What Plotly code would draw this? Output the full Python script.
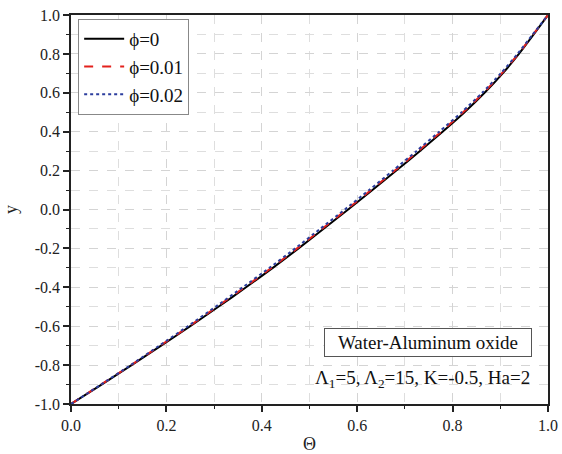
import plotly.graph_objects as go

# y positions (vertical axis)
y_vals = [-1.0, -0.9, -0.8, -0.7, -0.6, -0.5, -0.4, -0.3, -0.2, -0.1, 0.0,
          0.1, 0.2, 0.3, 0.4, 0.5, 0.6, 0.7, 0.8, 0.9, 1.0]
# Theta for each series
theta_phi0 = [0.0, 0.064, 0.127, 0.189, 0.250, 0.309, 0.367, 0.423, 0.477, 0.529, 0.581,
              0.632, 0.682, 0.731, 0.779, 0.825, 0.867, 0.905, 0.939, 0.970, 1.0]
theta_phi001 = [0.0, 0.063, 0.126, 0.187, 0.248, 0.306, 0.364, 0.420, 0.474, 0.526, 0.578,
                0.629, 0.679, 0.728, 0.776, 0.822, 0.865, 0.903, 0.938, 0.969, 1.0]
theta_phi002 = [0.0, 0.063, 0.125, 0.185, 0.245, 0.303, 0.360, 0.416, 0.470, 0.522, 0.574,
                0.625, 0.675, 0.724, 0.772, 0.819, 0.862, 0.901, 0.936, 0.968, 1.0]

names = ["\u03d5=0", "\u03d5=0.01", "\u03d5=0.02"]
series = [theta_phi0, theta_phi001, theta_phi002]
colors = ["#000000", "#e3211c", "#2c3e9e"]
dashes = ["solid", "dash", "dot"]

tick_vals = [-1.0, -0.8, -0.6, -0.4, -0.2, 0.0, 0.2, 0.4, 0.6, 0.8, 1.0]
y_tick_text = ["-1.0", "-0.8", "-0.6", "-0.4", "-0.2", "0.0", "0.2", "0.4", "0.6", "0.8", "1.0"]
x_tick_vals = [0.0, 0.2, 0.4, 0.6, 0.8, 1.0]
x_tick_text = ["0.0", "0.2", "0.4", "0.6", "0.8", "1.0"]

FONT = "Times New Roman, Liberation Serif, serif"

fig = go.Figure()
for nm, th, c, d in zip(names, series, colors, dashes):
    fig.add_trace(go.Scatter(x=th, y=y_vals, mode="lines", name=nm,
                             line=dict(color=c, dash=d, width=2, shape="spline", smoothing=0.6)))

axis_common = dict(
    automargin=False,
    showline=True, linecolor="#222", linewidth=1.5, mirror=True,
    ticks="outside", ticklen=6, tickwidth=1.5, tickcolor="#222",
    showgrid=True, gridcolor="#d4d4d4", gridwidth=1, griddash="dash",
    zeroline=False,
    tickfont=dict(family=FONT, size=16, color="#222"),
    minor=dict(dtick=0.1, ticks="outside", ticklen=3, tickwidth=1.2, tickcolor="#222",
               showgrid=True, gridcolor="#dedede", gridwidth=1, griddash="dash"),
)

fig.update_xaxes(range=[0, 1], tickmode="array", tickvals=x_tick_vals, ticktext=x_tick_text,
                 title=dict(text="\u0398", font=dict(family=FONT, size=18, color="#222"), standoff=6),
                 **axis_common)
fig.update_yaxes(range=[-1, 1], tickmode="array", tickvals=tick_vals, ticktext=y_tick_text,
                 title=dict(text="y", font=dict(family=FONT, size=18, color="#222"), standoff=12),
                 **axis_common)

fig.add_annotation(xref="paper", yref="paper", x=0.748, y=0.158,
                   text="Water-Aluminum oxide", showarrow=False,
                   font=dict(family=FONT, size=19, color="#111"),
                   bordercolor="#555", borderwidth=1, borderpad=3,
                   bgcolor="white", width=200, xanchor="center", yanchor="middle")
fig.add_annotation(xref="paper", yref="paper", x=0.966, y=0.063,
                   text="\u039b<sub>1</sub>=5, \u039b<sub>2</sub>=15, K=-0.5, Ha=2",
                   showarrow=False, font=dict(family=FONT, size=19, color="#111"),
                   xanchor="right", yanchor="middle")

fig.update_layout(
    width=562, height=454,
    margin=dict(l=71, r=14, t=15, b=50, autoexpand=False),
    paper_bgcolor="white", plot_bgcolor="white",
    showlegend=True,
    legend=dict(x=0.015, y=0.99, xanchor="left", yanchor="top",
                bordercolor="#888", borderwidth=1, bgcolor="white",
                font=dict(family=FONT, size=19, color="#111"),
                tracegroupgap=0, itemwidth=40),
)

fig.write_html("out.html", config={"displayModeBar": False},
               post_script="document.body.style.margin='0px';")
